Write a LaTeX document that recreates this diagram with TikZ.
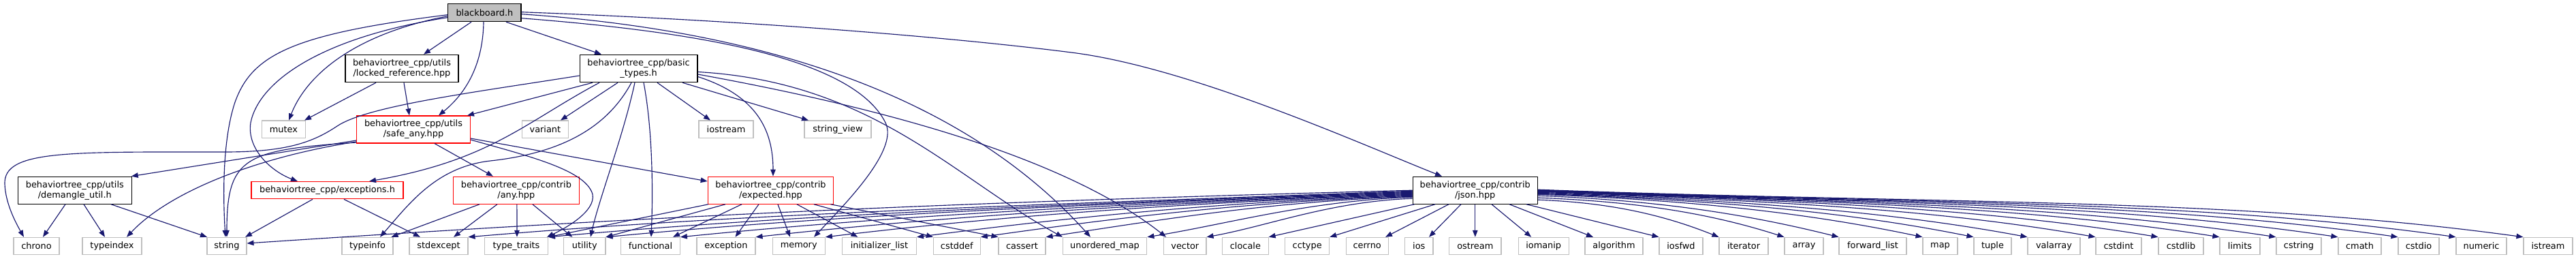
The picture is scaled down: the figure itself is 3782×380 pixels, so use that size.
\documentclass[tikz,border=0pt]{standalone}
\usepackage{fontspec}
\setmainfont{DejaVu Sans}
\usetikzlibrary{arrows.meta,calc}
\definecolor{edgeblue}{HTML}{191970}
\definecolor{sysgray}{HTML}{BFBFBF}
\definecolor{nodered}{HTML}{FF0000}
\newcommand\dgfont{\fontsize{12.9}{15}\selectfont}
\newcommand\bn[4]{\node[sysbox, minimum width=#3pt] (#1) at (#2,19) {#4};}
\newcommand\jsl[6]{\draw[dep] ($(js.west)+(0,#2)$) .. controls ($(js.west)+(#3,#4)$) and ($(#1)+(#5,#6)$) .. (#1);}
\newcommand\jsr[6]{\draw[dep] ($(js.east)+(0,#2)$) .. controls ($(js.east)+(#3,#4)$) and ($(#1)+(#5,#6)$) .. (#1);}
\begin{document}
\begin{tikzpicture}[x=1pt,y=1pt,
  box/.style={draw=black, fill=white, line width=1.1pt, inner sep=0pt, align=center, font=\dgfont, text=black},
  sysbox/.style={box, draw=sysgray, minimum height=25.3pt},
  hdr/.style={box, minimum height=40.5pt},
  redhdr/.style={hdr, draw=nodered},
  dep/.style={draw=edgeblue, line width=1.15pt, -{Triangle[length=10pt,width=7.5pt]}}]
\fill[white] (0,0) rectangle (3782,380);
\useasboundingbox (0,0) rectangle (3782,380);

% ---- nodes ----
\node[box, fill=sysgray, minimum width=107.1pt, minimum height=26pt] (bb) at (711.4,361.3) {blackboard.h};
\node[hdr, minimum width=166pt] (lr) at (590,279.5) {behaviortree\_cpp/utils\\/locked\_reference.hpp};
\node[hdr, minimum width=172.8pt] (bt) at (937.6,279.5) {behaviortree\_cpp/basic\\\_types.h};
\node[sysbox, minimum width=63.5pt] (mutex) at (416.5,190.3) {mutex};
\node[redhdr, minimum width=166.5pt, minimum height=40pt] (sa) at (607,190) {behaviortree\_cpp/utils\\/safe\_any.hpp};
\node[sysbox, minimum width=67.6pt] (variant) at (800.4,190.3) {variant};
\node[sysbox, minimum width=80pt] (iostr) at (1066,190.3) {iostream};
\node[sysbox, minimum width=98pt] (sview) at (1230,190.3) {string\_view};
\node[hdr, minimum width=167pt, minimum height=40pt] (dm) at (109.8,100.8) {behaviortree\_cpp/utils\\/demangle\_util.h};
\node[box, draw=nodered, minimum width=223pt, minimum height=25.3pt] (exc) at (480.5,100.8) {behaviortree\_cpp/exceptions.h};
\node[redhdr, minimum width=184.3pt, minimum height=40pt] (any) at (757.9,100.8) {behaviortree\_cpp/contrib\\/any.hpp};
\node[redhdr, minimum width=184.5pt, minimum height=40pt] (exp) at (1131.5,100.8) {behaviortree\_cpp/contrib\\/expected.hpp};
\node[hdr, minimum width=183.3pt, minimum height=40pt] (js) at (2165.7,100.8) {behaviortree\_cpp/contrib\\/json.hpp};

\bn{chrono}{53.5}{67}{chrono}
\bn{tindex}{164.5}{87}{typeindex}
\bn{str}{333}{58}{string}
\bn{tinfo}{539.5}{75}{typeinfo}
\bn{stdexc}{644}{86}{stdexcept}
\bn{ttraits}{758}{92.6}{type\_traits}
\bn{util}{858.3}{61.3}{utility}
\bn{func}{955}{86.6}{functional}
\bn{excp}{1066}{86}{exception}
\bn{mem}{1172.7}{77.3}{memory}
\bn{ilist}{1291}{109}{initializer\_list}
\bn{cstddef}{1404.8}{68.8}{cstddef}
\bn{cassert}{1500.5}{69}{cassert}
\bn{umap}{1622}{123.7}{unordered\_map}
\bn{vec}{1739.8}{62.4}{vector}
\bn{clocale}{1828.4}{67.4}{clocale}
\bn{cctype}{1919.2}{65}{cctype}
\bn{cerrno}{2007.2}{62.3}{cerrno}
\bn{ios}{2083.3}{41.3}{ios}
\bn{ostr}{2165.8}{76.3}{ostream}
\bn{iomanip}{2266.2}{74.3}{iomanip}
\bn{algo}{2369.5}{85}{algorithm}
\bn{iosfwd}{2468}{64}{iosfwd}
\bn{iter}{2560}{72}{iterator}
\bn{arr}{2648.5}{57}{array}
\bn{flist}{2749.5}{99}{forward\_list}
\bn{map}{2848.5}{51}{map}
\bn{tuple}{2925.5}{55}{tuple}
\bn{valarr}{3015.5}{77}{valarray}
\bn{cstdint}{3110.5}{67}{cstdint}
\bn{cstdlib}{3202}{66}{cstdlib}
\bn{limits}{3288.5}{59}{limits}
\bn{cstring}{3375}{66}{cstring}
\bn{cmath}{3464.5}{63}{cmath}
\bn{cstdio}{3551}{60}{cstdio}
\bn{numeric}{3643}{74}{numeric}
\bn{istr}{3741}{72}{istream}

% ---- blackboard.h ----
\draw[dep] ($(bb.south)+(-19.4,0)$) -- ($(lr.north)+(32,0)$);
\draw[dep] ($(bb.south)+(-1.4,0)$) .. controls (709,280) and (680,240) .. ($(sa.north)+(37,0)$);
\draw[dep] ($(bb.south)+(31.6,0)$) -- ($(bt.north)+(-54.6,0)$);
\draw[dep] ($(bb.west)+(0,-5)$) .. controls (520,330) and (450,270) .. ($(mutex.north)+(7.5,0)$);
\draw[dep] ($(bb.west)+(0,-7)$) .. controls (470,325) and (380,260) .. (368,200) .. controls (362,160) and (400,128) .. ($(exc.north)+(-43.5,0)$);
\draw[dep] ($(bb.west)+(0,-3)$) .. controls (430,330) and (370,300) .. (345,230) .. controls (325,170) and (328,80) .. ($(str.north)+(-2,0)$);
\draw[dep] ($(bb.east)+(0,-8)$) .. controls (1000,335) and (1250,300) .. (1300,200) .. controls (1320,160) and (1240,80) .. ($(mem.north)+(22.3,0)$);
\draw[dep] ($(bb.east)+(0,-2)$) .. controls (1200,330) and (1450,200) .. ($(umap.north)+(-21,0)$);
\draw[dep] ($(bb.east)+(0,1)$) .. controls (1100,350) and (1400,325) .. (1573,303) .. controls (1748,281) and (1997,169) .. ($(js.north)+(-48.7,0)$);

% ---- locked_reference ----
\draw[dep] ($(lr.south)+(-38,0)$) -- ($(mutex.north)+(30.5,0)$);
\draw[dep] ($(lr.south)+(3,0)$) -- ($(sa.north)+(-6,0)$);

% ---- basic_types ----
\draw[dep] ($(bt.west)+(0,-10.5)$) .. controls (700,245) and (540,225) .. (495,195) .. controls (459,171) and (420,157) .. (330,157) .. controls (100,157) and (5,160) .. (7,110) .. controls (8,80) and (25,50) .. ($(chrono.north)+(-18.5,0)$);
\draw[dep] ($(bt.south)+(-67.6,0)$) -- ($(sa.north)+(79,0)$);
\draw[dep] ($(bt.south)+(-57.6,0)$) .. controls (770,200) and (720,145) .. ($(exc.north)+(61.5,0)$);
\draw[dep] ($(bt.south)+(-10.6,0)$) .. controls (890,190) and (820,155) .. (720,144) .. controls (640,135) and (600,80) .. ($(tinfo.north)+(18.5,0)$);
\draw[dep] ($(bt.south)+(-30.6,0)$) -- ($(variant.north)+(22.6,0)$);
\draw[dep] ($(bt.south)+(-5.6,0)$) .. controls (915,180) and (880,90) .. ($(util.north)+(8.7,0)$);
\draw[dep] ($(bt.south)+(7.4,0)$) .. controls (960,180) and (958,80) .. ($(func.north)+(1,0)$);
\draw[dep] ($(bt.south)+(27.4,0)$) -- ($(iostr.north)+(-23,0)$);
\draw[dep] ($(bt.south)+(64.4,0)$) -- ($(sview.north)+(-43,0)$);
\draw[dep] ($(bt.east)+(0,-12)$) .. controls (1110,240) and (1135,190) .. ($(exp.north)+(3.5,0)$);
\draw[dep] ($(bt.east)+(0,-5)$) .. controls (1280,260) and (1400,120) .. ($(umap.north)+(-62,0)$);
\draw[dep] ($(bt.east)+(0,-8.5)$) .. controls (1250,230) and (1550,160) .. ($(vec.north)+(-27.8,0)$);

% ---- safe_any ----
\draw[dep] ($(sa.west)+(0,-16)$) -- ($(dm.north)+(83,0)$);
\draw[dep] ($(sa.west)+(0,-18)$) .. controls (380,150) and (250,100) .. ($(tindex.north)+(21.5,0)$);
\draw[dep] ($(sa.west)+(0,-19)$) .. controls (360,160) and (333,150) .. (str.north);
\draw[dep] ($(sa.south)+(31,0)$) -- ($(any.north)+(-34,0)$);
\draw[dep] ($(sa.east)+(0,-13)$) -- ($(exp.west)+(0,13.2)$);
\draw[dep] ($(sa.east)+(0,-15)$) .. controls (780,150) and (860,130) .. (870,95) .. controls (875,70) and (830,45) .. ($(ttraits.north)+(45,0)$);

% ---- demangle_util ----
\draw[dep] ($(dm.south)+(-13.8,0)$) -- ($(chrono.north)+(9.5,0)$);
\draw[dep] ($(dm.south)+(13.2,0)$) -- ($(tindex.north)+(-10.5,0)$);
\draw[dep] ($(dm.south)+(53.2,0)$) -- ($(str.north)+(-29,0)$);

% ---- exceptions ----
\draw[dep] ($(exc.south)+(-21.5,0)$) -- ($(str.north)+(27,0)$);
\draw[dep] ($(exc.south)+(24.5,0)$) -- ($(stdexc.north)+(-27,0)$);

% ---- any ----
\draw[dep] ($(any.south)+(-53.9,0)$) -- ($(tinfo.north)+(35,0)$);
\draw[dep] ($(any.south)+(-27.9,0)$) -- ($(stdexc.north)+(22,0)$);
\draw[dep] ($(any.south)+(1,0)$) -- ($(ttraits.north)+(1,0)$);
\draw[dep] ($(any.south)+(24,0)$) -- ($(util.north)+(-18,0)$);

% ---- expected ----
\draw[dep] ($(exp.south)+(-91.5,0)$) -- (ttraits.north east);
\draw[dep] ($(exp.south)+(-66.5,0)$) -- (util.north east);
\draw[dep] ($(exp.south)+(-42.5,0)$) -- ($(func.north)+(33,0)$);
\draw[dep] ($(exp.south)+(-17.5,0)$) -- ($(excp.north)+(13.5,0)$);
\draw[dep] ($(exp.south)+(10.5,0)$) -- ($(mem.north)+(-12.7,0)$);
\draw[dep] ($(exp.south)+(38.5,0)$) -- ($(ilist.north)+(-31.6,0)$);
\draw[dep] ($(exp.south)+(63.5,0)$) -- (cstddef.north west);
\draw[dep] ($(exp.south)+(88,0)$) -- (cassert.north west);

% ---- json.hpp, left fan ----
\draw[dep] (js.west) .. controls ($(js.west)+(-685,-18)$) and ($(str.east)+(600,44)$) .. ($(str.east)+(0,4)$);
\jsl{stdexc.north east}{-1}{-555}{-21.8}{416}{35.4}
\jsl{ttraits.north east}{-2}{-508}{-21}{381}{34.3}
\jsl{util.north east}{-3}{-474}{-20.8}{356}{33.8}
\jsl{func.north east}{-4}{-430}{-20.1}{323}{32.3}
\jsl{excp.north east}{-5}{-386}{-19.5}{290}{31.8}
\jsl{mem.north east}{-6}{-345}{-18.9}{259}{31}
\jsl{ilist.north east}{-7}{-292}{-17.9}{219}{28.4}
\jsl{cstddef.north east}{-8}{-254}{-17.5}{190}{26.7}
\jsl{cassert.north east}{-9}{-216}{-17.1}{162}{24.3}
\jsl{umap.north east}{-10}{-156}{-15.9}{117}{18.7}
\jsl{vec.north east}{-12}{-121}{-16.5}{91}{16.4}
\draw[dep] ($(js.south west)+(3,0)$) -- (clocale.north east);
\draw[dep] ($(js.south)+(-58.7,0)$) -- (cctype.north east);
\draw[dep] ($(js.south)+(-38.7,0)$) -- ($(cerrno.north)+(26.8,0)$);
\draw[dep] ($(js.south)+(-20.7,0)$) -- ($(ios.north)+(14.7,0)$);
\draw[dep] ($(js.south)+(0.1,0)$) -- (ostr.north);
\draw[dep] ($(js.south)+(24.3,0)$) -- ($(iomanip.north)+(-18,0)$);
\draw[dep] ($(js.south)+(50.3,0)$) -- ($(algo.north)+(-30.5,0)$);
\draw[dep] ($(js.south)+(75.3,0)$) -- (iosfwd.north west);

% ---- json.hpp, right fan ----
\jsr{iter.north west}{-14}{107}{-18}{-80}{32}
\jsr{arr.north west}{-11}{145}{-16.4}{-109}{34.9}
\jsr{flist.north west}{-8}{177}{-14.6}{-133}{33.2}
\jsr{map.north west}{-6}{226}{-14.5}{-170}{35.7}
\jsr{tuple.north west}{-5}{256}{-14.6}{-192}{38.5}
\jsr{valarr.north west}{-4}{288}{-14.8}{-216}{40}
\jsr{cstdint.north west}{-3}{328}{-15.3}{-246}{43}
\jsr{cstdlib.north west}{-2}{365}{-15.7}{-274}{45.1}
\jsr{limits.north west}{-1.5}{401}{-16.5}{-301}{47.5}
\jsr{cstring.north west}{-1}{434}{-17.3}{-326}{49.5}
\jsr{cmath.north west}{-0.5}{470}{-18.1}{-353}{51.9}
\jsr{cstdio.north west}{0}{506}{-19}{-379}{54.2}
\jsr{numeric.north west}{0.5}{540}{-19.7}{-405}{56.7}
\jsr{istr.north west}{1}{579}{-20.7}{-434}{59.5}
\end{tikzpicture}
\end{document}
